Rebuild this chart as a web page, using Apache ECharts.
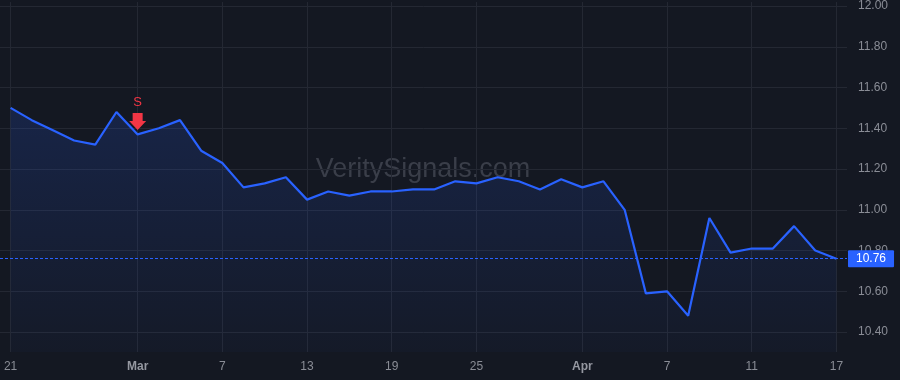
<!DOCTYPE html>
<html>
<head>
<meta charset="utf-8">
<script src="https://cdn.jsdelivr.net/npm/echarts@6/dist/echarts.min.js"></script>
<style>
html,body{margin:0;padding:0;background:#141822;}
#chart{width:900px;height:380px;}
</style>
</head>
<body>
<div id="chart"></div>
<script>
const dates = ['2025-02-21','2025-02-24','2025-02-25','2025-02-26','2025-02-27','2025-02-28',
  '2025-03-03','2025-03-04','2025-03-05','2025-03-06','2025-03-07','2025-03-10','2025-03-11',
  '2025-03-12','2025-03-13','2025-03-14','2025-03-17','2025-03-18','2025-03-19','2025-03-20',
  '2025-03-21','2025-03-24','2025-03-25','2025-03-26','2025-03-27','2025-03-28','2025-03-31',
  '2025-04-01','2025-04-02','2025-04-03','2025-04-04','2025-04-07','2025-04-08','2025-04-09',
  '2025-04-10','2025-04-11','2025-04-14','2025-04-15','2025-04-16','2025-04-17'];
const prices = [11.50,11.44,11.39,11.34,11.32,11.48,
  11.37,11.40,11.44,11.29,11.23,11.11,11.13,
  11.16,11.05,11.09,11.07,11.09,11.09,11.10,
  11.10,11.14,11.13,11.16,11.14,11.10,11.15,
  11.11,11.14,11.00,10.59,10.60,10.48,10.96,
  10.79,10.81,10.81,10.92,10.80,10.76];
const tickDates = ['2025-02-21','2025-03-03','2025-03-07','2025-03-13','2025-03-19','2025-03-25','2025-04-01','2025-04-07','2025-04-11','2025-04-17'];
const tickLabels = ['21','Mar','7','13','19','25','Apr','7','11','17'];
const yMin = 10.3024, yMax = 12.0195;
const signalDate = '2025-03-03';
const signalText = 'S';
const lastPrice = prices[prices.length - 1];
const watermark = 'VeritySignals.com';

const FONT = 'Liberation Sans, Arial, sans-serif';
const chart = echarts.init(document.getElementById('chart'), null, {renderer:'canvas'});
const isTick = (idx, val) => tickDates.indexOf(val) >= 0;

chart.setOption({
  backgroundColor: '#141822',
  animation: false,
  textStyle: {fontFamily: FONT},
  grid: {left: 0, right: 53, top: 0, bottom: 28},
  graphic: [{
    type: 'text', x: 423, y: 170, z: 0, silent: true,
    style: {text: watermark, fill: '#3a3e49', font: '27px ' + FONT, align: 'center', verticalAlign: 'middle'}
  }],
  xAxis: {
    type: 'category',
    data: dates,
    boundaryGap: true,
    axisLine: {show: false},
    axisTick: {show: false},
    splitLine: {show: true, interval: isTick, alignWithLabel: true, lineStyle: {color: '#242833', width: 1}},
    axisLabel: {
      interval: isTick,
      margin: 9,
      color: '#8a8d96',
      fontSize: 12,
      fontFamily: FONT,
      formatter: (val) => {
        const k = tickDates.indexOf(val);
        const t = k >= 0 ? tickLabels[k] : '';
        return /^[A-Za-z]/.test(t) ? '{m|' + t + '}' : t;
      },
      rich: {m: {fontWeight: 'bold', color: '#9598a1', fontSize: 12, fontFamily: FONT}}
    }
  },
  yAxis: {
    type: 'value',
    position: 'right',
    min: yMin,
    max: yMax,
    splitNumber: 8,
    minInterval: 0.2,
    maxInterval: 0.2,
    axisLine: {show: false},
    axisTick: {show: false},
    splitLine: {show: true, showMinLine: false, showMaxLine: false, lineStyle: {color: '#242833', width: 1}},
    axisLabel: {
      margin: 11,
      color: '#8a8d96',
      fontSize: 12,
      fontFamily: FONT,
      showMinLabel: false,
      showMaxLabel: false,
      formatter: (v) => v.toFixed(2)
    }
  },
  series: [{
    type: 'line',
    data: prices,
    symbol: 'none',
    z: 3,
    lineStyle: {color: '#2962ff', width: 2.2},
    areaStyle: {
      color: new echarts.graphic.LinearGradient(0, 0, 0, 1, [
        {offset: 0, color: 'rgba(41,98,255,0.24)'},
        {offset: 1, color: 'rgba(41,98,255,0.04)'}
      ])
    },
    markPoint: {
      silent: true,
      data: [{
        coord: [signalDate, prices[dates.indexOf(signalDate)]],
        symbol: 'path://M3.5,0 L13.5,0 L13.5,8 L17,8 L8.5,17 L0,8 L3.5,8 Z',
        symbolSize: [17, 17],
        symbolOffset: [0, -13],
        itemStyle: {color: '#f23645'},
        label: {show: true, position: 'top', distance: 4, formatter: signalText, color: '#f23645', fontSize: 13, fontFamily: FONT}
      }]
    },
    markLine: {
      silent: true,
      symbol: ['none', 'none'],
      lineStyle: {color: '#2962ff', width: 1, type: [3, 2]},
      label: {
        show: true, position: 'end', distance: 1,
        formatter: () => lastPrice.toFixed(2),
        color: '#ffffff', backgroundColor: '#2962ff',
        fontSize: 12, fontFamily: FONT, lineHeight: 13,
        padding: [2, 8, 2, 8], borderRadius: 1
      },
      data: [{yAxis: lastPrice}]
    }
  }]
});
</script>
</body>
</html>
